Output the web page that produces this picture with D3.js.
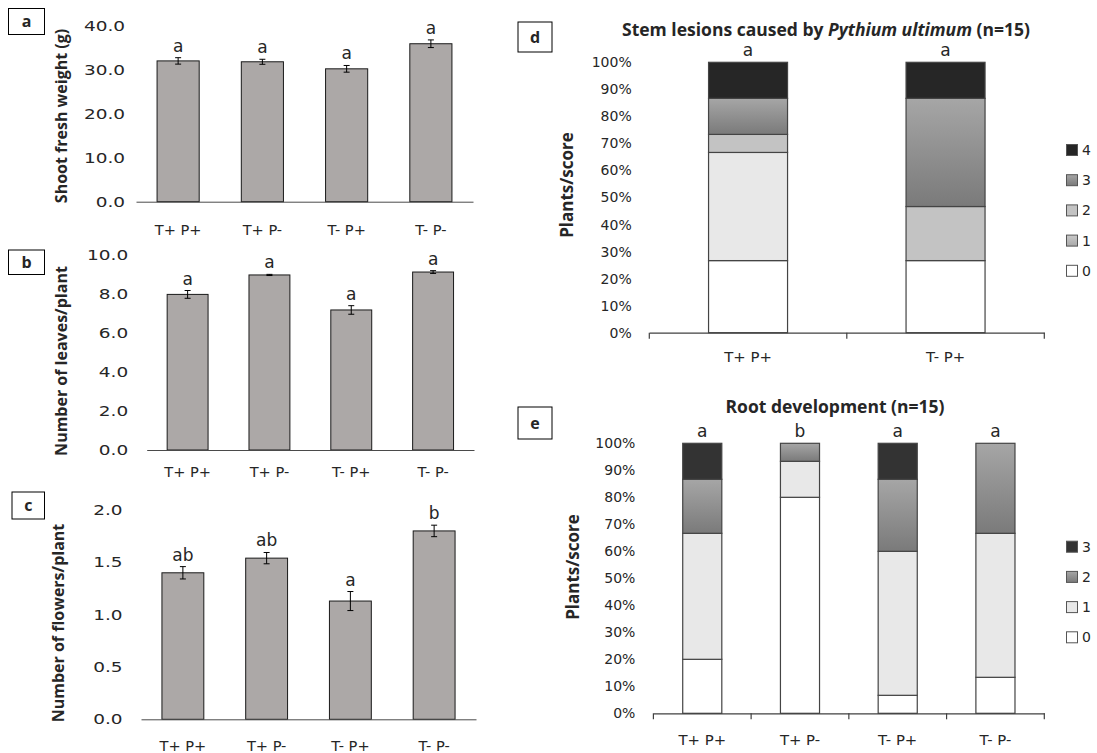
<!DOCTYPE html>
<html>
<head>
<meta charset="utf-8">
<script src="https://cdn.jsdelivr.net/npm/d3@7"></script>
<style>
  body { margin: 0; background: #fff; }
  svg text { font-family: "DejaVu Sans", sans-serif; fill: #262626; }
  svg text.bold { font-family: "Open Sans", sans-serif; font-weight: bold; }
</style>
</head>
<body>
<div id="chart"></div>
<script>
// ---- data ----
const groups = ["T+ P+", "T+ P-", "T- P+", "T- P-"];

const shootWeight = [32.0, 31.8, 30.2, 35.9];
const shootErr = [0.73, 0.57, 0.76, 0.87];
const shootLetters = ["a", "a", "a", "a"];
const shootTicks = [0, 10, 20, 30, 40];

const leaves = [8.0, 9.0, 7.2, 9.15];
const leavesErr = [0.2, 0.03, 0.22, 0.07];
const leavesLetters = ["a", "a", "a", "a"];
const leavesTicks = [0, 2, 4, 6, 8, 10];

const flowers = [1.40, 1.54, 1.13, 1.80];
const flowersErr = [0.059, 0.054, 0.091, 0.055];
const flowersLetters = ["ab", "ab", "a", "b"];
const flowersTicks = [0, 0.5, 1, 1.5, 2];

const plantsPerGroup = 15;
const pctTicks = [0, 0.1, 0.2, 0.3, 0.4, 0.5, 0.6, 0.7, 0.8, 0.9, 1];

// stem lesion scores, number of plants (of 15) per score
const lesionGroups = ["T+ P+", "T- P+"];
const lesionScores = ["0", "1", "2", "3", "4"];
const lesion0 = [4, 4];
const lesion1 = [6, 0];
const lesion2 = [1, 3];
const lesion3 = [2, 6];
const lesion4 = [2, 2];
const lesionLetters = ["a", "a"];

// root development scores
const rootScores = ["0", "1", "2", "3"];
const root0 = [3, 12, 1, 2];
const root1 = [7, 2, 8, 8];
const root2 = [3, 1, 4, 5];
const root3 = [2, 0, 2, 0];
const rootLetters = ["a", "b", "a", "a"];

// ---- svg ----
const width = 1097, height = 753;
const svg = d3.select("#chart").append("svg")
  .attr("width", width).attr("height", height);

const defs = svg.append("defs");
function grad(id, c1, c2) {
  const lg = defs.append("linearGradient").attr("id", id)
    .attr("x1", 0).attr("y1", 0).attr("x2", 0).attr("y2", 1);
  lg.append("stop").attr("offset", "0%").attr("stop-color", c1);
  lg.append("stop").attr("offset", "100%").attr("stop-color", c2);
}
grad("gradMid", "#a6a6a6", "#7a7a7a");
grad("gradLight", "#c9c9c9", "#a9a9a9");

// widen axis text horizontally (the source figure is stretched sideways)
function stretch(sel, sx) {
  sel.each(function() {
    const t = d3.select(this);
    const x0 = +t.attr("x") || 0;
    t.attr("x", x0 / sx).attr("transform", `scale(${sx},1)`);
  });
}

function boxLabel(x, y, w, h, txt) {
  svg.append("rect").attr("x", x).attr("y", y).attr("width", w).attr("height", h)
    .attr("fill", "#fff").attr("stroke", "#000").attr("stroke-width", 1);
  svg.append("text").attr("class", "bold")
    .attr("x", x + w / 2).attr("y", y + h / 2).attr("dy", "0.35em")
    .attr("text-anchor", "middle").attr("font-size", 16).text(txt);
}

function yTitle(x, y, txt, size) {
  svg.append("text").attr("class", "bold")
    .attr("transform", `translate(${x},${y}) rotate(-90)`)
    .attr("dy", "0.35em").attr("text-anchor", "middle")
    .attr("font-size", size).text(txt);
}

function barPanel(p) {
  const x = d3.scaleBand().domain(groups).range([p.x0, p.x1])
    .paddingInner(0.5).paddingOuter(0.25);
  const y = d3.scaleLinear().domain([0, p.max]).range([p.base, p.top]);
  const g = svg.append("g");

  const ya = g.append("g").attr("transform", `translate(${p.x0},0)`)
    .call(d3.axisLeft(y).tickValues(p.ticks).tickFormat(d3.format(".1f"))
      .tickSize(0).tickPadding(p.tickPad));
  ya.attr("font-family", null).attr("font-size", 14);
  ya.select(".domain").remove();
  stretch(ya.selectAll("text"), 1.32);

  const rows = p.values.map((v, i) => ({ group: groups[i], v: v, e: p.errs[i], letter: p.letters[i] }));

  g.selectAll("rect.bar").data(rows).join("rect")
    .attr("x", d => x(d.group)).attr("y", d => y(d.v))
    .attr("width", x.bandwidth()).attr("height", d => y(0) - y(d.v))
    .attr("fill", "#aca8a7").attr("stroke", "#1a1a1a").attr("stroke-width", 1);

  const cx = d => x(d.group) + x.bandwidth() / 2;
  const err = g.append("g").attr("stroke", "#000").attr("stroke-width", 1);
  err.selectAll("line.v").data(rows).join("line")
    .attr("x1", cx).attr("x2", cx)
    .attr("y1", d => y(d.v - d.e)).attr("y2", d => y(d.v + d.e));
  err.selectAll("line.t").data(rows).join("line")
    .attr("x1", d => cx(d) - 3).attr("x2", d => cx(d) + 3)
    .attr("y1", d => y(d.v + d.e)).attr("y2", d => y(d.v + d.e));
  err.selectAll("line.b").data(rows).join("line")
    .attr("x1", d => cx(d) - 3).attr("x2", d => cx(d) + 3)
    .attr("y1", d => y(d.v - d.e)).attr("y2", d => y(d.v - d.e));

  g.selectAll("text.letter").data(rows).join("text")
    .attr("x", cx).attr("y", d => y(d.v + d.e) - 6)
    .attr("text-anchor", "middle").attr("font-size", 17).text(d => d.letter);

  const xa = g.append("g").attr("transform", `translate(0,${p.base})`)
    .call(d3.axisBottom(x).tickSize(0).tickPadding(p.labelPad));
  xa.attr("font-family", null).attr("font-size", 13.5);
  xa.select(".domain").attr("stroke", "#4a4a4a");
  stretch(xa.selectAll("text"), 1.08);

  yTitle(p.titleX, p.titleY, p.title, 16);
}

function stackPanel(p) {
  const table = p.groups.map((grp, i) => {
    const row = { group: grp };
    p.scores.forEach((s, k) => { row[s] = p.counts[k][i] / plantsPerGroup; });
    return row;
  });
  const series = d3.stack().keys(p.scores)(table);

  const x = d3.scaleBand().domain(p.groups).range([p.x0, p.x1])
    .paddingInner(0.6).paddingOuter(0.3);
  const y = d3.scaleLinear().domain([0, 1]).range([p.base, p.top]);
  const g = svg.append("g");

  const ya = g.append("g").attr("transform", `translate(${p.x0},0)`)
    .call(d3.axisLeft(y).tickValues(pctTicks).tickFormat(d3.format(".0%"))
      .tickSize(0).tickPadding(p.tickPad));
  ya.attr("font-family", null).attr("font-size", 14);
  ya.select(".domain").remove();

  g.selectAll("g.layer").data(series).join("g")
    .attr("fill", (d, k) => p.fills[k])
    .selectAll("rect").data(d => d.filter(s => s[1] - s[0] > 0)).join("rect")
    .attr("x", d => x(d.data.group)).attr("y", d => y(d[1]))
    .attr("width", x.bandwidth()).attr("height", d => y(d[0]) - y(d[1]))
    .attr("stroke", "#444").attr("stroke-width", 1.2);

  g.selectAll("text.letter").data(p.groups).join("text")
    .attr("x", d => x(d) + x.bandwidth() / 2).attr("y", y(1) - 6)
    .attr("text-anchor", "middle").attr("font-size", 17)
    .text((d, i) => p.letters[i]);

  const xa = g.append("g").attr("transform", `translate(0,${p.base})`)
    .call(d3.axisBottom(x).tickSize(0).tickPadding(p.labelPad));
  xa.attr("font-family", null).attr("font-size", 13.5);
  xa.select(".domain").attr("stroke", "#404040").attr("stroke-width", 1.2);
  stretch(xa.selectAll("text"), 1.1);
  // category boundary ticks
  const bounds = d3.range(p.groups.length + 1).map(i => x.range()[0] + i * x.step());
  g.selectAll("line.bound").data(bounds).join("line")
    .attr("x1", d => d).attr("x2", d => d)
    .attr("y1", p.base).attr("y2", p.base + 6)
    .attr("stroke", "#404040").attr("stroke-width", 1.2);

  // legend, highest score on top
  const leg = g.append("g");
  const order = p.scores.map((s, k) => k).reverse();
  order.forEach((k, r) => {
    const cy = p.legY + r * 30.2;
    leg.append("rect").attr("x", 1066.5).attr("y", cy - 5.5)
      .attr("width", 11).attr("height", 11)
      .attr("fill", p.legendFills[k]).attr("stroke", "#555").attr("stroke-width", 1);
    leg.append("text").attr("x", 1082).attr("y", cy).attr("dy", "0.35em")
      .attr("font-size", 14).text(p.scores[k]);
  });

  yTitle(p.titleX, p.titleY, "Plants/score", 17);
}

// ---- panels a, b, c ----
boxLabel(8.5, 8.5, 36, 26, "a");
barPanel({ values: shootWeight, errs: shootErr, letters: shootLetters, ticks: shootTicks,
  max: 40, x0: 136, x1: 473, base: 201.7, top: 25.7, tickPad: 11, labelPad: 24,
  title: "Shoot fresh weight (g)", titleX: 61, titleY: 116 });

boxLabel(8.5, 250, 36, 24.5, "b");
barPanel({ values: leaves, errs: leavesErr, letters: leavesLetters, ticks: leavesTicks,
  max: 10, x0: 146.7, x1: 474, base: 450, top: 255.5, tickPad: 18.5, labelPad: 17,
  title: "Number of leaves/plant", titleX: 61, titleY: 361 });

boxLabel(12, 492, 32.5, 27, "c");
barPanel({ values: flowers, errs: flowersErr, letters: flowersLetters, ticks: flowersTicks,
  max: 2, x0: 141, x1: 476, base: 719.3, top: 510, tickPad: 18.5, labelPad: 22.5,
  title: "Number of flowers/plant", titleX: 58, titleY: 623 });

// ---- panel d ----
boxLabel(518, 22, 34, 30, "d");
const dTitle = svg.append("text").attr("class", "bold")
  .attr("x", 826).attr("y", 36).attr("text-anchor", "middle").attr("font-size", 17.5);
dTitle.append("tspan").text("Stem lesions caused by ");
dTitle.append("tspan").attr("font-style", "italic").text("Pythium ultimum");
dTitle.append("tspan").text(" (n=15)");

stackPanel({ groups: lesionGroups, scores: lesionScores,
  counts: [lesion0, lesion1, lesion2, lesion3, lesion4], letters: lesionLetters,
  fills: ["#ffffff", "#e8e8e8", "#c3c3c3", "url(#gradMid)", "#262626"],
  legendFills: ["#ffffff", "url(#gradLight)", "#c3c3c3", "url(#gradMid)", "#262626"],
  x0: 649.3, x1: 1044.3, base: 332.7, top: 62.3, tickPad: 17.6, labelPad: 20,
  legY: 150, titleX: 567, titleY: 185 });

// ---- panel e ----
boxLabel(518, 407, 34, 32, "e");
svg.append("text").attr("class", "bold")
  .attr("x", 835).attr("y", 413).attr("text-anchor", "middle").attr("font-size", 17.5)
  .text("Root development (n=15)");

stackPanel({ groups: groups, scores: rootScores,
  counts: [root0, root1, root2, root3], letters: rootLetters,
  fills: ["#ffffff", "#e8e8e8", "url(#gradMid)", "#333333"],
  legendFills: ["#ffffff", "#e8e8e8", "url(#gradMid)", "#333333"],
  x0: 653.4, x1: 1044.3, base: 713.3, top: 443.3, tickPad: 18, labelPad: 22,
  legY: 546.7, titleX: 573, titleY: 567 });
</script>
</body>
</html>
